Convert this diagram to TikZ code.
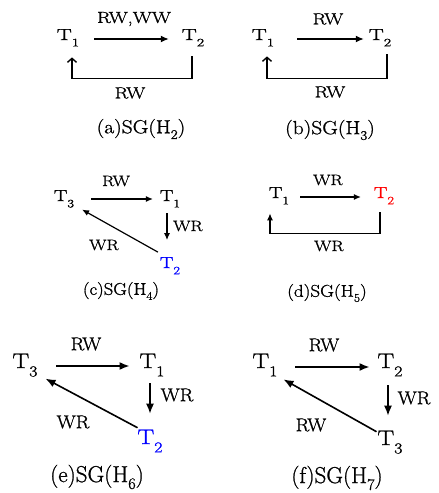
\documentclass[tikz,border=0pt]{standalone}
\usepackage{fontspec}
\setmainfont{Latin Modern Roman}[FakeBold=1.0]
\usetikzlibrary{arrows.meta}

% text of a given horizontal stretch and size
\newcommand{\wt}[3]{\scalebox{#1}[1]{\fontsize{#2}{#2}\selectfont #3}}
% lowered subscripts (names and captions)
\newcommand{\sub}[1]{\raisebox{-0.4em}{\scalebox{0.72}{#1}}}
\newcommand{\csub}[1]{\raisebox{-0.3em}{\scalebox{0.7}{#1}}}
\newcommand{\TA}[1]{\wt{1.4}{16}{#1}}
\newcommand{\LA}[1]{\wt{1.25}{16}{#1}}
\newcommand{\CA}[1]{\wt{1.13}{19}{#1}}
\newcommand{\TC}[1]{\wt{1.26}{16}{#1}}
\newcommand{\LC}[1]{\wt{1.21}{15}{#1}}
\newcommand{\CC}[1]{\wt{1.1}{17}{#1}}
\newcommand{\CD}[1]{\wt{1.12}{17}{#1}}
\newcommand{\TE}[1]{\wt{1.19}{21}{#1}}
\newcommand{\LE}[1]{\wt{1.08}{18.5}{#1}}
\newcommand{\CE}[1]{\wt{1.0}{23}{#1}}

\definecolor{tblue}{RGB}{0,0,255}
\definecolor{tred}{RGB}{255,0,0}

\tikzset{
  tn/.style={inner sep=0pt, outer sep=0pt},
  tx/.style={inner sep=0pt, outer sep=0pt, anchor=base},
  arr/.style={-{Latex[length=8pt,width=7pt]}, line width=1.4pt},
  arrs/.style={-{Latex[length=7pt,width=6pt]}, line width=1.2pt},
  arrl/.style={-{Latex[length=10pt,width=8pt]}, line width=1.6pt},
  barb/.style={-{Straight Barb[length=4pt,width=9pt,line width=1.4pt]}, line width=1.4pt},
}

\begin{document}
\begin{tikzpicture}[x=1pt,y=1pt]
\useasboundingbox (0,0) rectangle (439,-493);
\fill[white] (0,0) rectangle (439,-493);

% ---------- (a) SG(H2)
\node[tx] (a1) at (68,-40) {\TA{T\sub{1}}};
\node[tx] (a2) at (193,-40) {\TA{T\sub{2}}};
\draw[arr, shorten <=15pt, shorten >=13pt] ([yshift=1pt]a1.base east) -- ([yshift=1pt]a2.base west);
\node[tn] (la1) at (134,-19) {\LA{RW,WW}};
\draw[barb] ([xshift=-1pt,yshift=-10pt]a2.south) -- ++(0,-22) -| ([xshift=4pt,yshift=-11pt]a1.south);
\node[tn] (la2) at (130,-93) {\LA{RW}};
\node[tn] (ca) at (141,-129) {\CA{(a)SG(H\csub{2})}};

% ---------- (b) SG(H3)
\node[tx] (b1) at (263,-40) {\TA{T\sub{1}}};
\node[tx] (b2) at (380,-40) {\TA{T\sub{2}}};
\draw[arr, shorten <=23pt, shorten >=5pt] ([yshift=1pt]b1.base east) -- ([yshift=1pt]b2.base west);
\node[tn] (lb1) at (328,-19) {\LA{RW}};
\draw[barb] ([xshift=7pt,yshift=-8pt]b2.south) -- ++(0,-24) -| ([xshift=4pt,yshift=-10pt]b1.south);
\node[tn] (lb2) at (330,-92) {\LA{RW}};
\node[tn] (cb) at (330,-130) {\CA{(b)SG(H\csub{3})}};

% ---------- (c) SG(H4)
\node[tx] (c3) at (64,-201) {\TC{T\sub{3}}};
\node[tx] (c1) at (170,-201) {\TC{T\sub{1}}};
\node[tx] (c2) at (170,-268) {\TC{\color{tblue}T\sub{2}}};
\draw[arrs, shorten <=17pt, shorten >=7pt] ([yshift=2pt]c3.base east) -- ([yshift=2pt]c1.base west);
\node[tn] (lc1) at (116,-181) {\LC{RW}};
\draw[arrs] ([xshift=-3pt,yshift=-6pt]c1.south) -- ([xshift=-3pt,yshift=17pt]c2.north);
\node[tn] (lc2) at (188,-226) {\LC{WR}};
\draw[arrs] ([xshift=-2pt,yshift=5pt]c2.north west) -- ([xshift=8pt,yshift=-2pt]c3.south east);
\node[tn] (lc3) at (104,-245) {\LC{WR}};
\node[tn] (cc) at (121,-291) {\CC{(c)SG(H\csub{4})}};

% ---------- (d) SG(H5)
\node[tx] (d1) at (279,-198) {\TC{T\sub{1}}};
\node[tx] (d2) at (384,-198) {\TC{\color{tred}T\sub{2}}};
\draw[arrs, shorten <=11pt, shorten >=13pt] ([yshift=1pt]d1.base east) -- ([yshift=1pt]d2.base west);
\node[tn] (ld1) at (328,-180) {\LC{WR}};
\draw[arrs] ([xshift=-4pt,yshift=-8pt]d2.south) -- ++(0,-21) -| ([xshift=-9pt,yshift=-9pt]d1.south);
\node[tn] (ld2) at (329,-246) {\LC{WR}};
\node[tn] (cd) at (327,-293) {\CD{(d)SG(H\csub{5})}};

% ---------- (e) SG(H6)
\node[tx] (e3) at (25,-368) {\TE{T\sub{3}}};
\node[tx] (e1) at (152,-368) {\TE{T\sub{1}}};
\node[tx] (e2) at (150,-444) {\TE{\color{tblue}T\sub{2}}};
\draw[arrl, shorten <=19pt, shorten >=10pt] ([yshift=2pt]e3.base east) -- ([yshift=2pt]e1.base west);
\node[tn] (le1) at (86,-344) {\LE{RW}};
\draw[arrl] ([xshift=-2pt,yshift=-7pt]e1.south) -- ([xshift=0pt,yshift=16pt]e2.north);
\node[tn] (le2) at (177,-395) {\LE{WR}};
\draw[arrl] ([xshift=0pt,yshift=2pt]e2.north west) -- ([xshift=8pt,yshift=-2pt]e3.south east);
\node[tn] (le3) at (73,-422) {\LE{WR}};
\node[tn] (ce) at (97,-477) {\CE{(e)SG(H\csub{6})}};

% ---------- (f) SG(H7)
\node[tx] (f1) at (265,-368) {\TE{T\sub{1}}};
\node[tx] (f2) at (390,-368) {\TE{T\sub{2}}};
\node[tx] (f3) at (390,-445) {\TE{T\sub{3}}};
\draw[arrl, shorten <=18pt, shorten >=8pt] ([yshift=1pt]f1.base east) -- ([yshift=1pt]f2.base west);
\node[tn] (lf1) at (324,-345) {\LE{RW}};
\draw[arrl] ([xshift=-2pt,yshift=-9pt]f2.south) -- ([xshift=-2pt,yshift=15pt]f3.north);
\node[tn] (lf2) at (414,-398) {\LE{WR}};
\draw[arrl] ([xshift=-1pt,yshift=-1pt]f3.north west) -- ([xshift=6pt,yshift=-3pt]f1.south east);
\node[tn] (lf3) at (311,-425) {\LE{RW}};
\node[tn] (cf) at (337,-478) {\CE{(f)SG(H\csub{7})}};
\end{tikzpicture}
\end{document}
